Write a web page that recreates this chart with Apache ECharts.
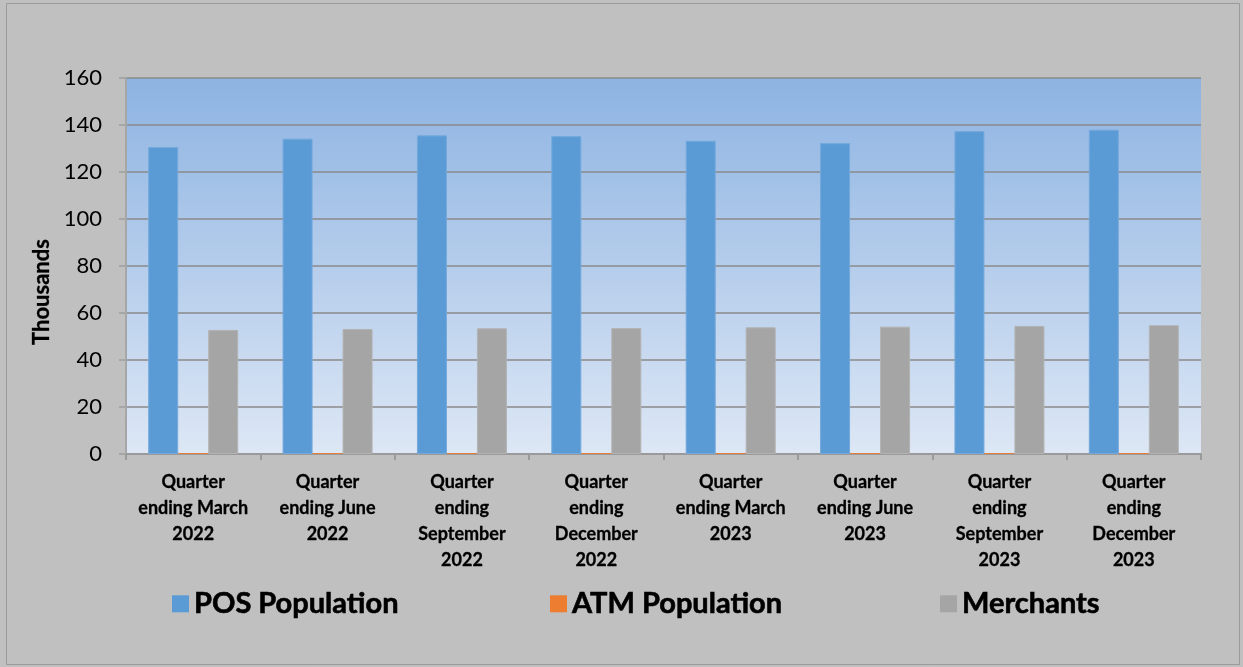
<!DOCTYPE html>
<html>
<head>
<meta charset="utf-8">
<script src="https://cdn.jsdelivr.net/npm/echarts@6/dist/echarts.min.js"></script>
<style>
html,body{margin:0;padding:0;background:#c0c0c0;}
#chart{width:1243px;height:667px;}
</style>
</head>
<body>
<div id="chart"></div>
<script>
const categories = [
  "Quarter\nending March\n2022",
  "Quarter\nending June\n2022",
  "Quarter\nending\nSeptember\n2022",
  "Quarter\nending\nDecember\n2022",
  "Quarter\nending March\n2023",
  "Quarter\nending June\n2023",
  "Quarter\nending\nSeptember\n2023",
  "Quarter\nending\nDecember\n2023"
];
const posPopulation = [130.6, 134.2, 135.6, 135.3, 133.3, 132.3, 137.4, 138.0];
const atmPopulation = [0.4, 0.4, 0.4, 0.4, 0.4, 0.4, 0.4, 0.4];
const merchants = [52.8, 53.2, 53.5, 53.6, 53.9, 54.2, 54.5, 54.8];
const yTicks = [0, 20, 40, 60, 80, 100, 120, 140, 160];

const FONT = 'Lato';
const chart = echarts.init(document.getElementById('chart'));
const legendText = {fontFamily: FONT, fontWeight: 'bold', fontSize: 29, color: '#000',
  textBorderColor: '#000', textBorderWidth: 0.6};
const mkLegend = (name, left) => ({
  data: [name], left: left, top: 584, itemWidth: 17, itemHeight: 17, itemGap: 8,
  icon: 'rect', textStyle: legendText, selectedMode: false,
  itemStyle: {borderWidth: 0}
});
chart.setOption({
  backgroundColor: '#c0c0c0',
  animation: false,
  graphic: [{
    type: 'rect', shape: {x: 6.5, y: 3.5, width: 1233, height: 661},
    style: {fill: 'none', stroke: '#9a9a9a', lineWidth: 1}, silent: true, z: -1
  }],
  legend: [
    mkLegend('POS Population', 167),
    mkLegend('ATM Population', 545),
    mkLegend('Merchants', 935)
  ],
  grid: {
    left: 126, right: 42, top: 78, bottom: 213, show: true, borderWidth: 0,
    backgroundColor: new echarts.graphic.LinearGradient(0, 0, 0, 1, [
      {offset: 0, color: '#8db3e2'},
      {offset: 1, color: '#dde7f5'}
    ])
  },
  xAxis: {
    type: 'category', data: categories,
    axisLine: {lineStyle: {color: '#9a9a9a', width: 2}},
    axisTick: {show: true, length: 6, lineStyle: {color: '#9a9a9a', width: 2}},
    axisLabel: {interval: 0, margin: 15, fontFamily: FONT, fontWeight: 'bold', fontSize: 18, lineHeight: 26, color: '#000', align: 'center',
      textBorderColor: '#000', textBorderWidth: 0.3}
  },
  yAxis: {
    type: 'value', min: yTicks[0], max: yTicks[yTicks.length - 1], interval: 20,
    name: 'Thousands', nameLocation: 'middle', nameRotate: 90, nameGap: 68,
    nameTextStyle: {fontFamily: FONT, fontWeight: 'bold', fontSize: 22, color: '#000',
      textBorderColor: '#000', textBorderWidth: 0.3, padding: [0, 52, 0, 0]},
    axisLine: {show: true, lineStyle: {color: '#a6a6a6', width: 2}},
    axisTick: {show: true, length: 7, lineStyle: {color: '#a6a6a6', width: 2}},
    axisLabel: {margin: 24, fontFamily: FONT, fontSize: 22, color: '#000'},
    splitLine: {lineStyle: {color: '#8a8a8a', width: 1.5}}
  },
  series: [
    {name: 'POS Population', type: 'bar', data: posPopulation, barWidth: 30, barGap: '0%',
     itemStyle: {color: '#5b9bd5', borderColor: '#74a9dc', borderWidth: 1}},
    {name: 'ATM Population', type: 'bar', data: atmPopulation, barWidth: 30, barGap: '0%',
     itemStyle: {color: '#ed7d31'}},
    {name: 'Merchants', type: 'bar', data: merchants, barWidth: 30, barGap: '0%',
     itemStyle: {color: '#a5a5a5', borderColor: '#b3b3b3', borderWidth: 1}}
  ]
});
</script>
</body>
</html>
